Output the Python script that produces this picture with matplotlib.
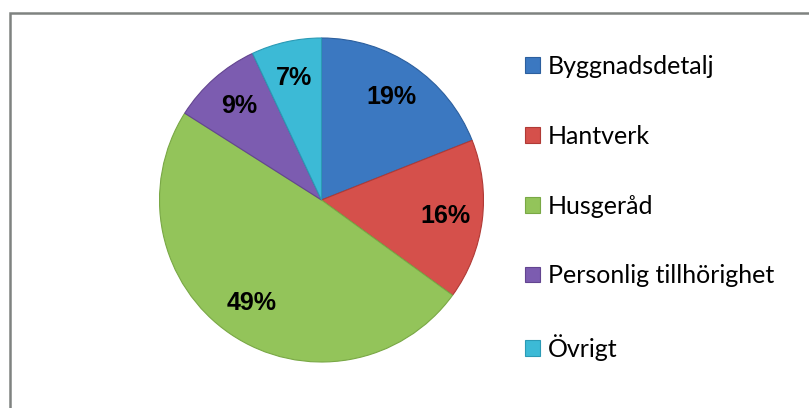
import matplotlib
matplotlib.use("Agg")
import matplotlib.pyplot as plt
from matplotlib.patches import Rectangle, Patch

categories = ["Byggnadsdetalj", "Hantverk", "Husgeråd", "Personlig tillhörighet", "Övrigt"]
values = [19, 16, 49, 9, 7]
colors = ["#3b78c1", "#d5504b", "#93c45a", "#7c5cb0", "#3cbad6"]
edge_colors = ["#2c5f9e", "#b03a36", "#79a845", "#634590", "#2b9ab5"]

W, H = 809, 408
fig = plt.figure(figsize=(W / 100, H / 100), dpi=100)
fig.patch.set_facecolor("white")

# outer border (cropped on right/bottom)
fig.add_artist(Rectangle((10 / W, -0.1), 1.2, (H - 12.5) / H + 0.1,
                         transform=fig.transFigure, fill=False,
                         edgecolor="#7f8280", linewidth=1.8))

cx, cy, r = 321.5, 200, 162
ax = fig.add_axes([(cx - r) / W, (H - cy - r) / H, 2 * r / W, 2 * r / H])
wedges, texts, autotexts = ax.pie(
    values, colors=colors, startangle=90, counterclock=False,
    autopct=lambda p: f"{p:.0f}%", pctdistance=0.77,
    wedgeprops=dict(linewidth=1.0, edgecolor="white"),
    textprops=dict(fontsize=18, fontweight="bold", color="black",
                   family="Liberation Sans"))
for w, ec in zip(wedges, edge_colors):
    w.set_edgecolor(ec)
    w.set_linewidth(0.8)
ax.set_xlim(-1, 1)
ax.set_ylim(-1, 1)
ax.axis("off")

handles = [Patch(facecolor=c, edgecolor=e, linewidth=0.8) for c, e in zip(colors, edge_colors)]
fig.legend(handles, categories, loc="upper left",
           bbox_to_anchor=(525 / W, 1 - 55 / H), frameon=False,
           prop=dict(family="Lato", size=18),
           handlelength=0.6, handleheight=0.6, handletextpad=0.3,
           labelspacing=1.87, borderpad=0, borderaxespad=0)

fig.savefig("out.png", dpi=100, facecolor="white")
